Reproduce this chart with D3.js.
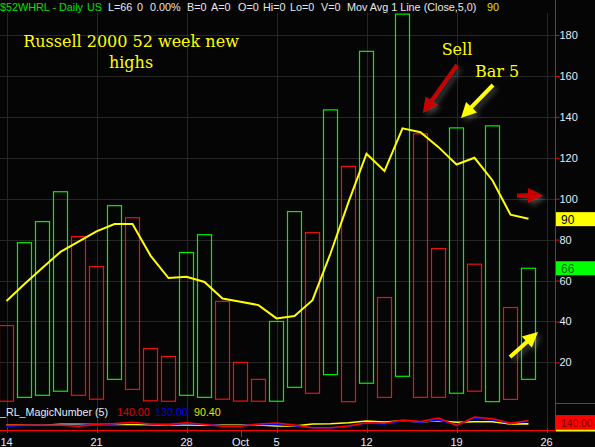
<!DOCTYPE html>
<html>
<head>
<meta charset="utf-8">
<script src="https://cdn.jsdelivr.net/npm/d3@7"></script>
<style>
  html, body { margin: 0; padding: 0; background: #000; }
  svg { display: block; }
</style>
</head>
<body>
<svg id="chart" width="595" height="447"></svg>
<script>
const width = 595
const height = 447

// trading days, Sep 14 - Oct 23 2015
const days = ["09-14","09-15","09-16","09-17","09-18","09-21","09-22","09-23","09-24","09-25",
              "09-28","09-29","09-30","10-01","10-02","10-05","10-06","10-07","10-08","10-09",
              "10-12","10-13","10-14","10-15","10-16","10-19","10-20","10-21","10-22","10-23"]

// open / close of each daily bar (new highs count)
const opens  = [38.0, 2.9, 3.9, 5.9, 81.5, 66.8, 11.7, 90.7, 26.8, 22.9,
                3.9, 2.9, 49.8, 20.0, 11.7, 1.0, 7.8, 83.4, 14.0, 115.8,
                9.8, 51.7, 13.2, 131.7, 75.6, 4.9, 68.0, 0.8, 46.8, 11.7]
const closes = [1.0, 78.5, 88.8, 103.4, 3.9, 2.0, 96.6, 6.8, 1.2, 1.0,
                73.7, 82.4, 2.0, 1.1, 1.0, 40.0, 93.7, 4.9, 143.4, 0.8,
                172.0, 2.9, 190.2, 2.9, 2.9, 134.6, 5.9, 135.6, 1.9, 66.0]

// Mov Avg 1 Line (Close,5,0)
const movAvg = [50.0, 58.3, 66.2, 74.0, 79.0, 84.0, 87.6, 87.6, 72.2, 61.2,
                61.8, 59.3, 51.2, 49.6, 48.0, 41.5, 42.7, 50.4, 73.2, 98.3,
                122.0, 113.5, 134.4, 132.5, 125.2, 116.7, 120.0, 108.9, 92.2, 90.2]

// _RL_MagicNumber (5) lines
const magicRed    = [74, 70, 70, 70, 55, 84, 96, 114, 89, 84, 108, 81, 55, 55, 89,
                     104, 74, 34, 34, 59, 108, 99, 148, 126, 178, 67, 193, 167, 99, 140]
const magicBlue   = [55, 67, 70, 70, 70, 79, 89, 104, 89, 79, 96, 81, 67, 67, 81,
                     81, 64, 30, 30, 52, 104, 89, 138, 114, 148, 79, 173, 148, 99, 130]
const magicYellow = [74, 70, 70, 84, 84, 81, 81, 81, 79, 74, 74, 70, 74, 74, 74,
                     59, 59, 89, 93, 108, 133, 119, 138, 119, 138, 114, 123, 123, 89, 90.4]

const priceTicks = [20, 40, 60, 80, 100, 120, 140, 160, 180]
const dateTicks = [[0, "14"], [5, "21"], [10, "28"], [13, "Oct"], [15, "5"], [20, "12"], [25, "19"], [30, "26"]]
const weekStarts = [0, 5, 10, 15, 20, 25, 30]

const lastClose = 66
const lastAvg = 90
const magicLast = [140.00, 130.00, 90.40]

const axisX = 555.5
const font = "'Liberation Sans', Arial, sans-serif"
const serif = "'DejaVu Serif', serif"

let svg = d3.select("#chart")

svg.append("rect").attr("width", width).attr("height", height).attr("fill", "#050505")

let x = d3.scaleLinear().domain([0, 30]).range([6.5, 546.5])
let y = d3.scaleLinear().domain([0, 180]).range([403.3, 35])
let yMagic = d3.scaleLinear().domain([0, 400]).range([430, 403])

let defs = svg.append("defs")
let glow = defs.append("filter").attr("id", "glow")
    .attr("x", "-50%").attr("y", "-50%").attr("width", "200%").attr("height", "200%")
glow.append("feDropShadow")
    .attr("dx", 3).attr("dy", 3).attr("stdDeviation", 2.5)
    .attr("flood-color", "#888").attr("flood-opacity", 0.45)

let clip = defs.append("clipPath").attr("id", "plot")
clip.append("rect").attr("x", 0).attr("y", 12).attr("width", axisX).attr("height", 420)

// grid
let grid = svg.append("g").attr("stroke", "#262626").attr("stroke-width", 1)
grid.selectAll(".hg")
    .data(priceTicks)
    .enter().append("line")
    .attr("x1", 0).attr("x2", axisX)
    .attr("y1", d => Math.round(y(d)) + 0.5).attr("y2", d => Math.round(y(d)) + 0.5)
grid.selectAll(".vg")
    .data(weekStarts)
    .enter().append("line")
    .attr("x1", d => Math.round(x(d)) + 0.5).attr("x2", d => Math.round(x(d)) + 0.5)
    .attr("y1", 13).attr("y2", 430)

// bars (open/close boxes)
let plot = svg.append("g").attr("clip-path", "url(#plot)")
plot.selectAll(".bar")
    .data(days.map((d, i) => ({day: d, i: i, open: opens[i], close: closes[i]})))
    .enter().append("rect")
    .attr("x", d => x(d.i) - 7)
    .attr("y", d => y(Math.max(d.open, d.close)))
    .attr("width", 14)
    .attr("height", d => y(Math.min(d.open, d.close)) - y(Math.max(d.open, d.close)))
    .attr("fill", "none")
    .attr("stroke", d => d.close >= d.open ? "#00f000" : "#f01010")
    .attr("stroke-width", 1.2)

// moving average
let maLine = d3.line().x((d, i) => x(i)).y(d => y(d))
plot.append("path")
    .datum(movAvg)
    .attr("d", maLine)
    .attr("fill", "none")
    .attr("stroke", "#ffff00")
    .attr("stroke-width", 2)

// magic number panel
let magicLine = d3.line().x((d, i) => x(i)).y(d => yMagic(d))
let magicSeries = [[magicYellow, "#ffff00"], [magicBlue, "#0000ff"], [magicRed, "#ff0000"]]
magicSeries.forEach(([vals, color]) => {
    plot.append("path")
        .datum(vals)
        .attr("d", magicLine)
        .attr("fill", "none")
        .attr("stroke", color)
        .attr("stroke-width", 1.6)
})

// axes lines
svg.append("line").attr("x1", 0).attr("x2", axisX).attr("y1", 430.5).attr("y2", 430.5)
    .attr("stroke", "#ff0000").attr("stroke-width", 1.2)
svg.append("line").attr("x1", axisX).attr("x2", axisX).attr("y1", 0).attr("y2", 431)
    .attr("stroke", "#ff0000").attr("stroke-width", 1)
svg.append("line").attr("x1", axisX).attr("x2", width).attr("y1", 403.5).attr("y2", 403.5)
    .attr("stroke", "#ff0000").attr("stroke-width", 1)

// right price axis
let yAxis = d3.axisRight(y).tickValues(priceTicks).tickSize(4).tickPadding(0).tickFormat(d3.format("d"))
let yAxisG = svg.append("g").attr("transform", `translate(${axisX},0)`).call(yAxis)
yAxisG.select(".domain").remove()
yAxisG.selectAll(".tick line").attr("stroke", "#ff0000")
yAxisG.selectAll(".tick text")
    .attr("fill", "#e4ecf8")
    .attr("font-family", font)
    .attr("font-size", "11px")
    .attr("x", 4)

// last value markers
function valueBox(yc, fill, textColor, label, size) {
    svg.append("rect")
        .attr("x", axisX + 0.5).attr("y", yc - 7)
        .attr("width", width - axisX).attr("height", 14)
        .attr("fill", fill)
    svg.append("text")
        .attr("x", 561).attr("y", yc + 4.5)
        .attr("font-family", font).attr("font-size", size)
        .attr("fill", textColor)
        .text(label)
}
valueBox(y(lastAvg), "#ffff00", "#000000", d3.format("d")(lastAvg), "12px")
valueBox(y(lastClose), "#00ff00", "#007000", d3.format("d")(lastClose), "12px")
valueBox(yMagic(magicLast[0]) + 1.5, "#ff0000", "#800000", d3.format(".2f")(magicLast[0]), "10.3px")
svg.append("rect").attr("x", axisX + 0.5).attr("y", 429.5)
    .attr("width", width - axisX).attr("height", 2).attr("fill", "#ffff00")

// date axis
let xAxisG = svg.append("g")
xAxisG.selectAll(".xt")
    .data(dateTicks)
    .enter().append("line")
    .attr("x1", d => Math.round(x(d[0])) + 0.5).attr("x2", d => Math.round(x(d[0])) + 0.5)
    .attr("y1", d => d[1] === "Oct" ? 430 : 428)
    .attr("y2", d => d[1] === "Oct" ? 437 : 433)
    .attr("stroke", "#ff0000")
xAxisG.selectAll(".xl")
    .data(dateTicks)
    .enter().append("text")
    .attr("x", d => x(d[0]))
    .attr("y", 446)
    .attr("text-anchor", "middle")
    .attr("font-family", font).attr("font-size", "11px")
    .attr("fill", "#e4ecf8")
    .text(d => d[1])

// header line
const header = [
    [0, "$52WHRL - Daily", "#00e000"],
    [87, "US", "#00e000"],
    [108, "L=66", "#e8e8e8"],
    [137, "0", "#e8e8e8"],
    [150, "0.00%", "#e8e8e8"],
    [187, "B=0", "#e8e8e8"],
    [211, "A=0", "#e8e8e8"],
    [238, "O=0", "#e8e8e8"],
    [263, "Hi=0", "#e8e8e8"],
    [290, "Lo=0", "#e8e8e8"],
    [321, "V=0", "#e8e8e8"],
    [347, "Mov Avg 1 Line (Close,5,0)", "#e8e8e8"],
    [487, "90", "#e0e000"]
]
svg.selectAll(".hdr")
    .data(header)
    .enter().append("text")
    .attr("x", d => d[0]).attr("y", 11)
    .attr("font-family", font).attr("font-size", "10.8px")
    .attr("fill", d => d[2])
    .text(d => d[1])

// magic number header
const magicHeader = [
    [0, "_RL_MagicNumber (5)", "#e4ecf8"],
    [117, d3.format(".2f")(magicLast[0]), "#e00000"],
    [155, d3.format(".2f")(magicLast[1]), "#0000f0"],
    [194, d3.format(".2f")(magicLast[2]), "#e0e000"]
]
svg.selectAll(".mhdr")
    .data(magicHeader)
    .enter().append("text")
    .attr("x", d => d[0]).attr("y", 415.5)
    .attr("font-family", font).attr("font-size", "10.7px")
    .attr("fill", d => d[2])
    .text(d => d[1])

// annotations
function note(txt, cx, by) {
    svg.append("text")
        .attr("x", cx).attr("y", by)
        .attr("text-anchor", "middle")
        .attr("font-family", serif).attr("font-size", "16px")
        .attr("fill", "#ffff00")
        .text(txt)
}
note("Russell 2000 52 week new", 131, 47)
note("highs", 131, 68)
note("Sell", 457, 55)
note("Bar 5", 497, 77)

function arrow(x1, y1, x2, y2, color) {
    let len = Math.hypot(x2 - x1, y2 - y1)
    let ux = (x2 - x1) / len, uy = (y2 - y1) / len
    let nx = -uy, ny = ux
    let sw = 2, hw = 7.5, hl = 15
    let bx = x2 - ux * hl, by = y2 - uy * hl
    let pts = [
        [x1 + nx * sw, y1 + ny * sw],
        [bx + nx * sw, by + ny * sw],
        [bx + nx * hw, by + ny * hw],
        [x2, y2],
        [bx - nx * hw, by - ny * hw],
        [bx - nx * sw, by - ny * sw],
        [x1 - nx * sw, y1 - ny * sw]
    ]
    svg.append("polygon")
        .attr("points", pts.map(p => p.join(",")).join(" "))
        .attr("fill", color)
        .attr("filter", "url(#glow)")
}
arrow(457, 65, 423, 113, "#c80000")
arrow(493, 85, 461, 118, "#ffff00")
arrow(517, 195.5, 543, 195.5, "#c80000")
arrow(510, 357, 538, 332, "#ffff00")
</script>
</body>
</html>
